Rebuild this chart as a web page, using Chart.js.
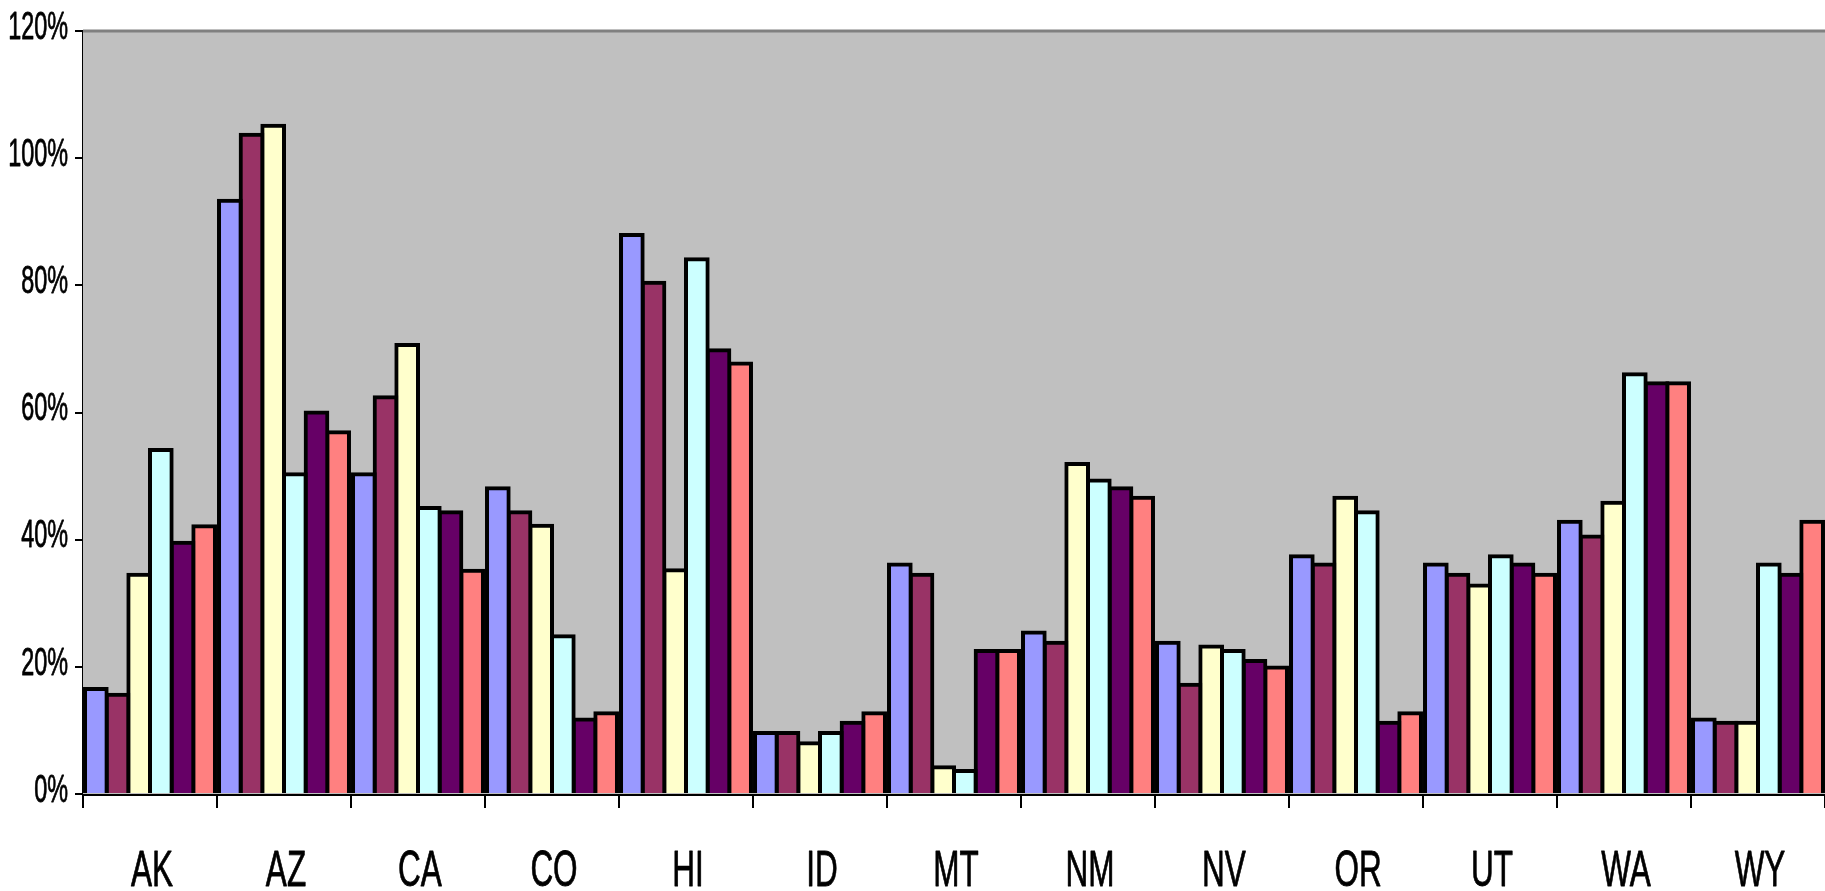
<!DOCTYPE html>
<html>
<head>
<meta charset="utf-8">
<title>Bar chart by state</title>
<script src="https://cdn.jsdelivr.net/npm/chart.js@4.4.1/dist/chart.umd.min.js"></script>
<style>
  html, body { margin: 0; padding: 0; background: #fff; }
  canvas { display: block; }
</style>
</head>
<body>
<canvas id="stateChart" width="1825" height="891"></canvas>
<script>
// categories and series values (percent)
const states = ['AK', 'AZ', 'CA', 'CO', 'HI', 'ID', 'MT', 'NM', 'NV', 'OR', 'UT', 'WA', 'WY'];
const yTicks = ['0%', '20%', '40%', '60%', '80%', '100%', '120%'];

const series1 = [16.5, 93.3, 50.3, 48.1, 87.9, 9.6, 36.1, 25.4, 23.8, 37.4, 36.1, 42.8, 11.7];
const series2 = [15.6, 103.7, 62.4, 44.3, 80.4, 9.6, 34.5, 23.8, 17.2, 36.1, 34.5, 40.5, 11.2];
const series3 = [34.5, 105.1, 70.6, 42.2, 35.2, 8.0, 4.2, 51.9, 23.2, 46.6, 32.8, 45.8, 11.2];
const series4 = [54.1, 50.3, 45.0, 24.8, 84.1, 9.6, 3.6, 49.3, 22.5, 44.3, 37.4, 66.0, 36.1];
const series5 = [39.5, 60.0, 44.3, 11.7, 69.8, 11.2, 22.5, 48.1, 20.9, 11.2, 36.1, 64.6, 34.5];
const series6 = [42.1, 56.9, 35.1, 12.7, 67.7, 12.7, 22.5, 46.6, 19.9, 12.7, 34.5, 64.6, 42.8];

const seriesColors = ['#9999FF', '#993366', '#FFFFCC', '#CCFFFF', '#660066', '#FF8080'];
const allSeries = [series1, series2, series3, series4, series5, series6];

// squeezed label text like the original
function drawLabel(ctx, text, x, y, sx) {
  ctx.save();
  ctx.translate(x, y);
  ctx.scale(sx, 1);
  ctx.strokeText(text, 0, 0);
  ctx.fillText(text, 0, 0);
  ctx.restore();
}

// plot area background, top border and tick labels
const plotDecor = {
  id: 'plotDecor',
  beforeDatasetsDraw(chart) {
    const ctx = chart.ctx;
    const a = chart.chartArea;
    ctx.save();
    ctx.fillStyle = '#C0C0C0';
    ctx.fillRect(a.left, a.top, a.right - a.left, a.bottom - a.top);
    ctx.strokeStyle = '#808080';
    ctx.lineWidth = 3;
    ctx.beginPath();
    ctx.moveTo(a.left, a.top);
    ctx.lineTo(a.right, a.top);
    ctx.stroke();
    ctx.restore();
  },
  afterDraw(chart) {
    const ctx = chart.ctx;
    const yScale = chart.scales.y;
    const xScale = chart.scales.x;
    ctx.save();
    ctx.fillStyle = '#000';
    ctx.strokeStyle = '#000';
    ctx.lineWidth = 0.8;
    ctx.lineJoin = 'round';
    ctx.textBaseline = 'middle';

    ctx.font = '39px "Liberation Sans", Arial, sans-serif';
    ctx.textAlign = 'right';
    yTicks.forEach(function(label, i) {
      drawLabel(ctx, label, 68, yScale.getPixelForValue(i * 20) - 3, 0.6);
    });

    ctx.font = '50px "Liberation Sans", Arial, sans-serif';
    ctx.textAlign = 'center';
    states.forEach(function(label, i) {
      drawLabel(ctx, label, xScale.getPixelForValue(i) + 2, 872, 0.63);
    });
    ctx.restore();
  }
};

new Chart(document.getElementById('stateChart').getContext('2d'), {
  type: 'bar',
  data: {
    labels: states,
    datasets: allSeries.map(function(values, i) {
      return {
        label: 'Series ' + (i + 1),
        data: values,
        backgroundColor: seriesColors[i],
        borderColor: '#000',
        borderWidth: 4,
        borderSkipped: 'bottom',
        inflateAmount: 2,
        categoryPercentage: 0.97,
        barPercentage: 1.0
      };
    })
  },
  options: {
    responsive: false,
    animation: false,
    devicePixelRatio: 1,
    layout: { padding: { top: 31, left: 0, right: 0, bottom: 0 } },
    plugins: { legend: { display: false }, tooltip: { enabled: false } },
    scales: {
      x: {
        grid: { offset: true, drawOnChartArea: false, drawTicks: true, tickLength: 14, color: '#000', lineWidth: 2 },
        border: { display: true, color: '#000', width: 3 },
        ticks: { display: false },
        afterFit: function(scale) { scale.height = 97; }
      },
      y: {
        min: 0,
        max: 120,
        grid: { drawOnChartArea: false, drawTicks: true, tickLength: 8, color: '#000', lineWidth: 2 },
        border: { display: true, color: '#000', width: 3 },
        ticks: { display: false, stepSize: 20 },
        afterFit: function(scale) { scale.width = 83; }
      }
    }
  },
  plugins: [plotDecor]
});
</script>
</body>
</html>
